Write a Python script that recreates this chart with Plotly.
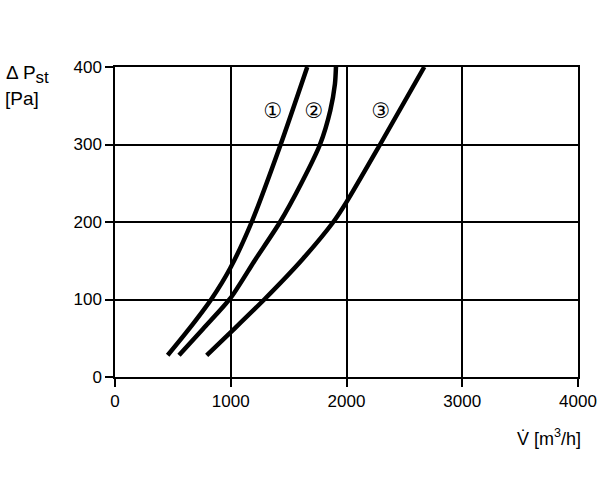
import plotly.graph_objects as go

# Curve data (V [m3/h], dP [Pa])
c1_x = [455, 640, 835, 994, 1181, 1431, 1661]
c1_y = [28, 62, 101, 140, 200, 300, 400]
c2_x = [553, 760, 994, 1210, 1426, 1610, 1771, 1860, 1900, 1909]
c2_y = [28, 62, 101, 151, 200, 250, 300, 344, 378, 400]
c3_x = [792, 994, 1296, 1620, 1886, 2001, 2290, 2672]
c3_y = [28, 57, 101, 152, 200, 226, 300, 400]

labels = ["①", "②", "③"]
label_x = [1365, 1719, 2298]
label_y = [341, 341, 341]

x_ticks = [0, 1000, 2000, 3000, 4000]
y_ticks = [0, 100, 200, 300, 400]

W, H = 600, 499
L, R, T, B = 115, 22, 67, 122

fig = go.Figure()
for xs, ys in [(c1_x, c1_y), (c2_x, c2_y), (c3_x, c3_y)]:
    fig.add_trace(go.Scatter(x=xs, y=ys, mode="lines",
                             line=dict(color="black", width=4.5, shape="spline", smoothing=0.7),
                             showlegend=False, hoverinfo="skip"))

fig.add_trace(go.Scatter(x=label_x, y=label_y, mode="text", text=labels,
                         textfont=dict(family="DejaVu Sans", size=21, color="black"),
                         showlegend=False, hoverinfo="skip"))

axis_common = dict(showgrid=True, gridcolor="black", gridwidth=1.5,
                   showline=True, linecolor="black", linewidth=1.5, mirror=True,
                   ticks="outside", ticklen=8, tickwidth=1.5, tickcolor="black",
                   zeroline=False, automargin=False,
                   tickfont=dict(family="Liberation Sans, Arial", size=17, color="black"))

fig.update_xaxes(range=[0, 4000], tickvals=x_ticks, **axis_common)
fig.update_yaxes(range=[0, 400], tickvals=y_ticks, **axis_common)

fig.update_layout(
    width=W, height=H,
    margin=dict(l=L, r=R, t=T, b=B),
    paper_bgcolor="white", plot_bgcolor="white",
)

pw, ph = W - L - R, H - T - B


def px(xp):
    return (xp - L) / pw


def py(yp):
    return (H - B - yp) / ph


font = dict(family="Liberation Sans, Arial", size=19, color="black")
fig.add_annotation(text="Δ P<sub><span style='font-size:17px'>st</span></sub>",
                   x=px(4), y=py(75), xref="paper", yref="paper",
                   xanchor="left", yanchor="middle", showarrow=False, font=font)
fig.add_annotation(text="[Pa]", x=px(3), y=py(98), xref="paper", yref="paper",
                   xanchor="left", yanchor="middle", showarrow=False, font=font)
fig.add_annotation(text="V\u0307 [m<sup>3</sup>/h]", x=px(583), y=py(437), xref="paper", yref="paper",
                   xanchor="right", yanchor="middle", showarrow=False,
                   font=dict(family="Liberation Sans, Arial", size=18, color="black"))

fig.write_html("out.html")
